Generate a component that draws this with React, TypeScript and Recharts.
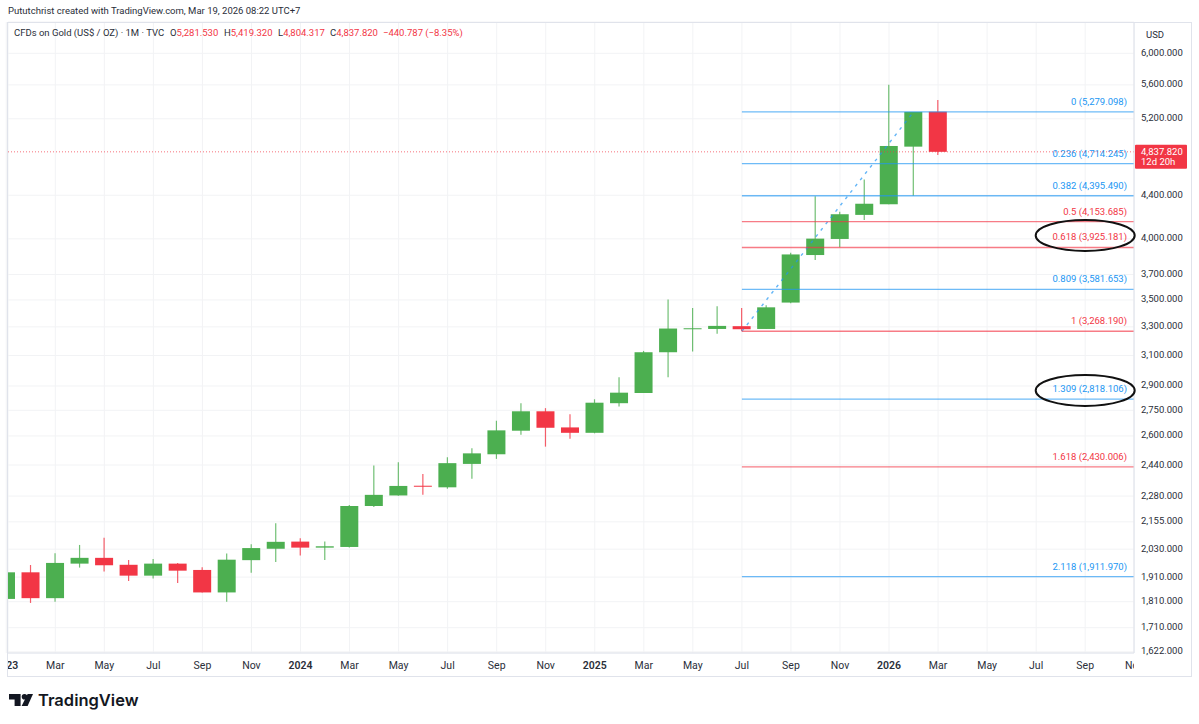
import {
  Bar,
  CartesianGrid,
  ComposedChart,
  ReferenceDot,
  ReferenceLine,
  XAxis,
  YAxis,
} from "recharts";

const months = [
  "Jan 23", "Feb 23", "Mar 23", "Apr 23", "May 23", "Jun 23", "Jul 23", "Aug 23", "Sep 23", "Oct 23", "Nov 23", "Dec 23",
  "Jan 24", "Feb 24", "Mar 24", "Apr 24", "May 24", "Jun 24", "Jul 24", "Aug 24", "Sep 24", "Oct 24", "Nov 24", "Dec 24",
  "Jan 25", "Feb 25", "Mar 25", "Apr 25", "May 25", "Jun 25", "Jul 25", "Aug 25", "Sep 25", "Oct 25", "Nov 25", "Dec 25",
  "Jan 26", "Feb 26", "Mar 26",
];
const opens = [
  1821, 1930, 1824, 1967, 1992, 1962, 1916, 1967, 1940, 1847, 1982, 2032,
  2064, 2037, 2040, 2231, 2283, 2332, 2324, 2446, 2498, 2630, 2744, 2649,
  2618, 2793, 2856, 3122, 3283, 3285, 3305, 3285, 3480, 3861, 3999, 4215,
  4314, 4893, 5281.53,
];
const highs = [
  1953, 1961, 2012, 2049, 2082, 1983, 1987, 1970, 1952, 2011, 2052, 2148,
  2079, 2064, 2236, 2437, 2455, 2393, 2482, 2531, 2688, 2793, 2763, 2726,
  2817, 2956, 3131, 3503, 3439, 3453, 3439, 3459, 3881, 4391, 4243, 4554,
  5603, 5279, 5419.32,
];
const lows = [
  1808, 1805, 1810, 1950, 1933, 1894, 1904, 1885, 1847, 1810, 1928, 1974,
  2002, 1983, 2038, 2226, 2281, 2286, 2317, 2368, 2473, 2607, 2540, 2584,
  2615, 2773, 2856, 2956, 3127, 3251, 3268.19, 3285, 3475, 3819, 3928, 4169,
  4314, 4395, 4804.317,
];
const closes = [
  1930, 1824, 1970, 1992, 1960, 1916, 1967, 1937, 1847, 1984, 2035, 2063,
  2037, 2043, 2231, 2286, 2331, 2327, 2450, 2503, 2632, 2744, 2647, 2618,
  2796, 2858, 3122, 3288, 3290, 3307, 3283, 3444, 3866, 4002, 4221, 4319,
  4900, 5279, 4837.82,
];

const priceTicks = [6000, 5600, 5200, 4400, 4000, 3700, 3500, 3300, 3100, 2900, 2750, 2600, 2440, 2280, 2155, 2030, 1910, 1810, 1710, 1622];
const monthTicks = [0, 2, 4, 6, 8, 10, 12, 14, 16, 18, 20, 22, 24, 26, 28, 30, 32, 34, 36, 38, 40, 42, 44, 46];
const monthTickLabels = [
  "2023", "Mar", "May", "Jul", "Sep", "Nov", "2024", "Mar", "May", "Jul", "Sep", "Nov",
  "2025", "Mar", "May", "Jul", "Sep", "Nov", "2026", "Mar", "May", "Jul", "Sep", "Nov",
];

const fibRatios = ["0", "0.236", "0.382", "0.5", "0.618", "0.809", "1", "1.309", "1.618", "2.118"];
const fibPrices = [5279.098, 4714.245, 4395.49, 4153.685, 3925.181, 3581.653, 3268.19, 2818.106, 2430.006, 1911.97];
const redFibs = ["0.5", "0.618", "1", "1.618"];
const fibStartMonth = 30;
const trendEndMonth = 37;

const circledSpots = [
  { month: 44, price: 4030 },
  { month: 44, price: 2872 },
];

const lastClose = 4837.82;
const countdown = "12d 20h";

const GREEN = "#4caf50";
const RED = "#f23645";
const BLUE = "#2196f3";
const GRID = "#f2f3f5";
const FONT = 'Roboto, sans-serif';
const TEXT = "#2a2e39";
const X_RIGHT = 45.99;

const fmt = (n: number, d = 3) =>
  n.toLocaleString("en-US", { minimumFractionDigits: d, maximumFractionDigits: d });

const candles = months.map((name, i) => ({
  month: i,
  name,
  open: opens[i],
  high: highs[i],
  low: lows[i],
  close: closes[i],
}));

function Candle(props: any) {
  const { x, y, width, height, payload } = props;
  const { open, high, low, close } = payload;
  const color = close >= open ? GREEN : RED;
  const span = Math.log(high) - Math.log(low);
  const at = (v: number) => y + (height * (Math.log(high) - Math.log(v))) / span;
  const top = at(Math.max(open, close));
  const bottom = at(Math.min(open, close));
  return (
    <g>
      <line x1={x + width / 2} x2={x + width / 2} y1={y} y2={y + height} stroke={color} strokeWidth={1.2} strokeOpacity={0.8} />
      <rect x={x} y={top} width={width} height={Math.max(bottom - top, 1)} fill={color} />
    </g>
  );
}

function MonthTick(props: any) {
  const { x, y, payload } = props;
  const label = monthTickLabels[monthTicks.indexOf(payload.value)];
  const isYear = /^\d/.test(label);
  // nested svg so the first and last labels get cut at the pane edge like the original
  return (
    <svg x={8} y={y - 8} width={1126} height={24}>
      <text
        x={x - 8}
        y={16}
        textAnchor="middle"
        fontSize={10.5}
        fontFamily={FONT}
        fontWeight={isYear ? 600 : 400}
        fill={TEXT}
      >
        {label}
      </text>
    </svg>
  );
}

function PriceLabel(props: any) {
  const { x, y, payload } = props;
  return (
    <text x={x} y={y + 2.5} fontSize={9.5} fontFamily={FONT} fill={TEXT}>
      {fmt(payload.value)}
    </text>
  );
}

function FibLabel({ viewBox, text, color }: any) {
  return (
    <text
      x={viewBox.x + viewBox.width - 7}
      y={viewBox.y - 7}
      textAnchor="end"
      fontSize={9.5}
      fontFamily={FONT}
      fill={color}
    >
      {text}
    </text>
  );
}

function PriceTag({ viewBox }: any) {
  const left = viewBox.x + viewBox.width + 1;
  return (
    <g fontFamily={FONT} fill="#fff">
      <rect x={left} y={viewBox.y - 7} width={52} height={24} fill={RED} rx={1} />
      <text x={left + 6} y={viewBox.y + 3} fontSize={9.5}>{fmt(lastClose)}</text>
      <text x={left + 6} y={viewBox.y + 13.5} fontSize={9.5}>{countdown}</text>
    </g>
  );
}

function Ellipse({ cx, cy }: any) {
  return <ellipse cx={cx} cy={cy} rx={49.5} ry={15.5} fill="none" stroke="#111" strokeWidth={2} />;
}

function Logo() {
  return (
    <svg width={130} height={24} style={{ position: "absolute", left: 9, top: 689 }}>
      <path d="M0 5 H11.6 V17 H5.6 V10.4 H0 Z" fill="#131722" />
      <circle cx={15.5} cy={7.8} r={2.8} fill="#131722" />
      <path d="M18.6 5 H24 L18.6 17 H12.6 Z" fill="#131722" />
      <text x={29} y={17} fontSize={16.5} fontWeight={600} fontFamily="Inter, sans-serif" fill="#131722">
        TradingView
      </text>
    </svg>
  );
}

export default function App() {
  const red = { color: RED };
  return (
    <div style={{ position: "absolute", left: 0, top: 0, width: 1199, height: 724, background: "#fff", fontFamily: FONT, color: TEXT }}>
      <div style={{ position: "absolute", left: 8, top: 5, fontSize: 9.5, whiteSpace: "nowrap" }}>
        Pututchrist created with TradingView.com, Mar 19, 2026 08:22 UTC+7
      </div>

      <ComposedChart
        width={1199}
        height={724}
        data={candles}
        margin={{ top: 22, right: 8, bottom: 48, left: 8 }}
      >
        <CartesianGrid stroke={GRID} />
        <XAxis
          dataKey="month"
          type="number"
          domain={[0.071, X_RIGHT]}
          allowDataOverflow
          ticks={monthTicks}
          interval={0}
          height={23}
          axisLine={{ stroke: "#e0e3eb" }}
          tickLine={false}
          tick={<MonthTick />}
        />
        <YAxis
          orientation="right"
          scale="log"
          domain={[1618, 6425]}
          allowDataOverflow
          ticks={priceTicks}
          interval={0}
          width={57}
          axisLine={{ stroke: "#e0e3eb" }}
          tickLine={false}
          tickMargin={1}
          tick={<PriceLabel />}
        />
        <ReferenceLine
          segment={[
            { x: fibStartMonth, y: fibPrices[6] },
            { x: trendEndMonth, y: fibPrices[0] },
          ]}
          stroke={BLUE}
          strokeWidth={1.4}
          strokeDasharray="3 5"
          strokeOpacity={0.7}
        />
        {fibRatios.map((ratio, i) => {
          const color = redFibs.includes(ratio) ? RED : BLUE;
          return (
            <ReferenceLine
              key={ratio}
              segment={[
                { x: fibStartMonth, y: fibPrices[i] },
                { x: X_RIGHT, y: fibPrices[i] },
              ]}
              stroke={color}
              strokeWidth={1.4}
              strokeOpacity={0.65}
              label={<FibLabel text={`${ratio} (${fmt(fibPrices[i])})`} color={color} />}
            />
          );
        })}
        <Bar
          dataKey={(d: any) => [d.low, d.high]}
          barSize={18}
          isAnimationActive={false}
          shape={<Candle />}
        />
        <ReferenceLine
          y={lastClose}
          stroke={RED}
          strokeOpacity={0.7}
          strokeDasharray="1 2"
          label={<PriceTag />}
        />
        {circledSpots.map((s) => (
          <ReferenceDot key={s.price} x={s.month} y={s.price} shape={<Ellipse />} />
        ))}
      </ComposedChart>

      <div style={{ position: "absolute", left: 14, top: 27, fontSize: 9.5, whiteSpace: "nowrap" }}>
        CFDs on Gold (US$ / OZ) · 1M · TVC
        <span style={{ position: "absolute", left: 156 }}>O<span style={red}>5,281.530</span></span>
        <span style={{ position: "absolute", left: 210 }}>H<span style={red}>5,419.320</span></span>
        <span style={{ position: "absolute", left: 264 }}>L<span style={red}>4,804.317</span></span>
        <span style={{ position: "absolute", left: 316 }}>C<span style={red}>4,837.820</span></span>
        <span style={{ ...red, position: "absolute", left: 369 }}>−440.787 (−8.35%)</span>
      </div>
      <div style={{ position: "absolute", left: 1146, top: 29, fontSize: 9.5 }}>USD</div>
      <div style={{ position: "absolute", left: 7, top: 22, width: 1183, height: 653, border: "1px solid #e0e3eb", pointerEvents: "none" }} />
      <Logo />
    </div>
  );
}
